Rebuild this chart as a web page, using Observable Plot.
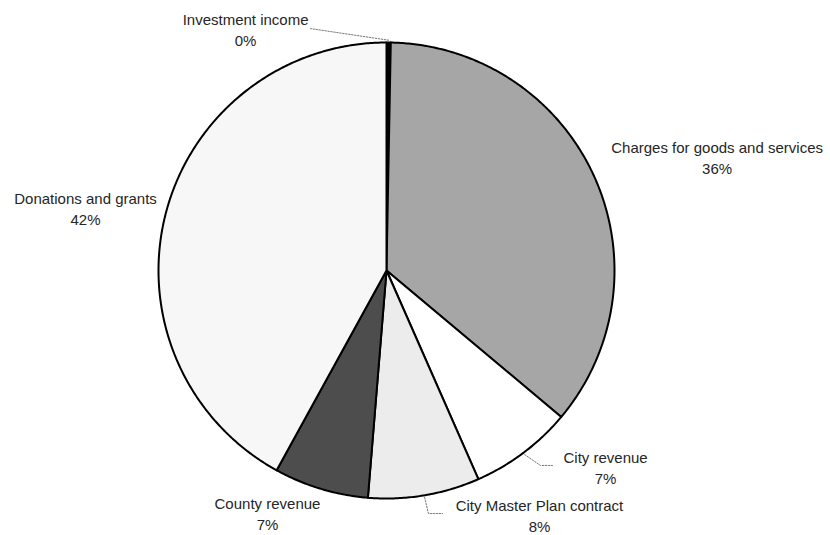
<!DOCTYPE html>
<html>
<head>
<meta charset="utf-8">
<script src="https://cdn.jsdelivr.net/npm/d3@7"></script>
<script src="https://cdn.jsdelivr.net/npm/@observablehq/plot@0.6"></script>
<style>
  html, body { margin: 0; padding: 0; background: #fff; }
  #chart { width: 830px; height: 535px; }
</style>
</head>
<body>
<div id="chart"></div>
<script>
// ---- data ----
const categories = [
  "Investment income",
  "Charges for goods and services",
  "City revenue",
  "City Master Plan contract",
  "County revenue",
  "Donations and grants"
];
const shares = [0.3, 35.8, 7.3, 7.9, 6.7, 42.0];
const pctLabels = ["0%", "36%", "7%", "8%", "7%", "42%"];

// ---- styling / layout ----
const fills = ["#000000", "#a6a6a6", "#ffffff", "#ececec", "#4d4d4d", "#f7f7f7"];
// label centres, in pie-radius units (x right, y up)
const labelAnchors = [[-0.618, 1.059], [1.45, 0.5], [0.961, -0.86], [0.671, -1.07], [-0.522, -1.062], [-1.32, 0.274]];
// leader line knee & end points (pie-radius units), null = no leader
const leaderBends = [
  [[-0.333, 1.061], [-0.333, 1.061]],
  null,
  [[0.675, -0.855], [0.728, -0.855]],
  [[0.184, -1.066], [0.246, -1.066]],
  null,
  null
];

const pie = d3.pie().sort(null).value(d => d)(shares);

const slicePts = [];
pie.forEach((p, i) => {
  const name = categories[i];
  slicePts.push({name, x: 0, y: 0});
  const n = Math.max(2, Math.ceil((p.endAngle - p.startAngle) / (Math.PI / 360)));
  for (let k = 0; k <= n; k++) {
    const a = p.startAngle + (p.endAngle - p.startAngle) * k / n;
    slicePts.push({name, x: Math.sin(a), y: Math.cos(a)});
  }
  slicePts.push({name, x: 0, y: 0});
});

const labels = categories.map((c, i) => ({
  text: c + "\n" + pctLabels[i],
  x: labelAnchors[i][0],
  y: labelAnchors[i][1]
}));

const leaders = [];
pie.forEach((p, i) => {
  if (!leaderBends[i]) return;
  const m = (p.startAngle + p.endAngle) / 2;
  const r = 1.01;
  leaders.push({id: i, x: r * Math.sin(m), y: r * Math.cos(m)});
  leaderBends[i].forEach(([x, y]) => leaders.push({id: i, x, y}));
});

const chart = Plot.plot({
  width: 830,
  height: 535,
  marginLeft: 158,
  marginRight: 216,
  marginTop: 42,
  marginBottom: 37,
  x: {domain: [-1, 1], axis: null},
  y: {domain: [-1, 1], axis: null},
  color: {domain: categories, range: fills},
  style: {fontFamily: "'Liberation Sans', Arial, Helvetica, sans-serif", background: "#fff"},
  marks: [
    Plot.line(slicePts, {
      x: "x", y: "y", z: "name", fill: "name",
      stroke: "#000", strokeWidth: 2, strokeLinejoin: "round"
    }),
    Plot.line(leaders, {
      x: "x", y: "y", z: "id",
      stroke: "#777", strokeWidth: 1, strokeDasharray: "1.5,1.5"
    }),
    Plot.text(labels, {
      x: "x", y: "y", text: "text",
      fontSize: 15, lineHeight: 1.4, fill: "#262626", textAnchor: "middle"
    })
  ]
});

document.getElementById("chart").appendChild(chart);
</script>
</body>
</html>
